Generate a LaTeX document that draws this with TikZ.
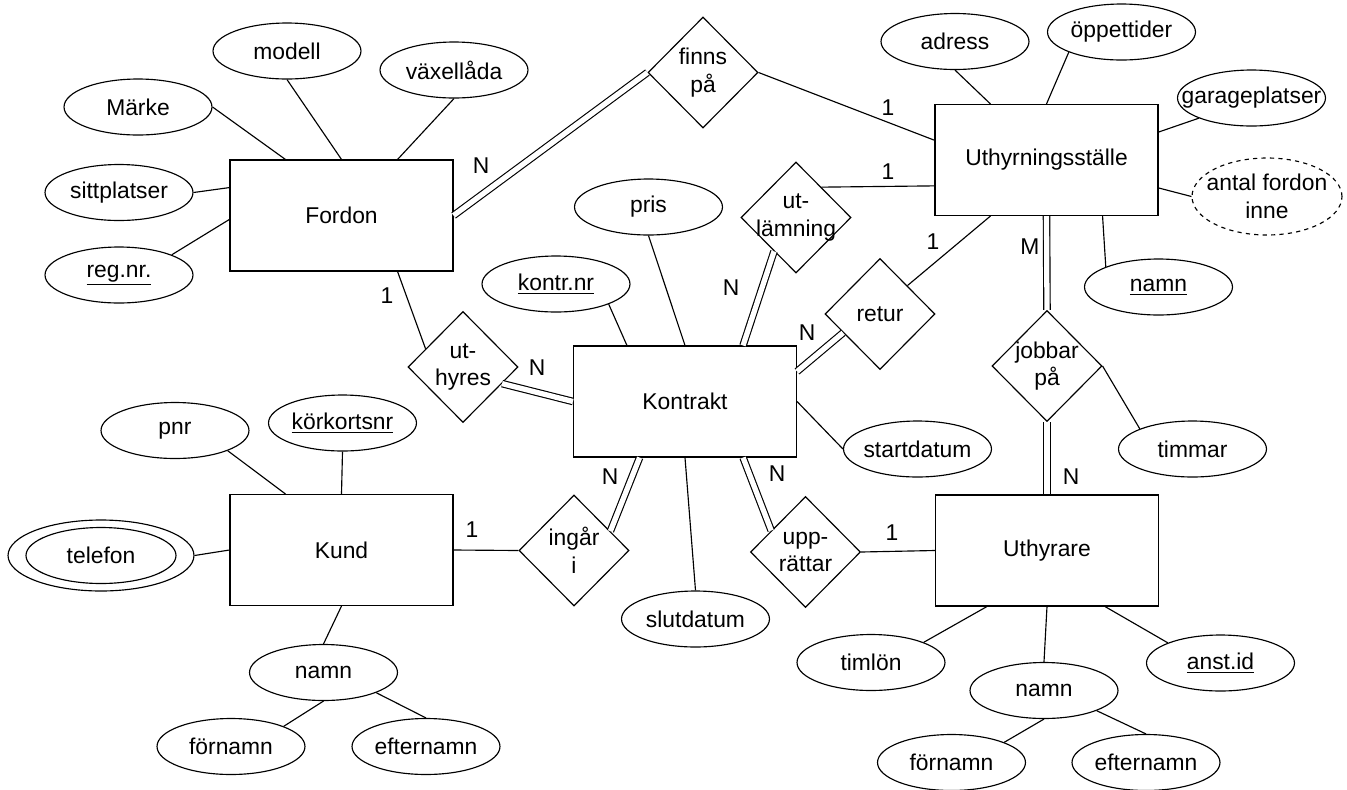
\documentclass[tikz,border=0pt]{standalone}
\usepackage{fontspec}
\setmainfont{Liberation Sans}
\usetikzlibrary{shapes.geometric}
\tikzset{entity/.style = {draw, rectangle, minimum width = 4.46cm, minimum height = 2.22cm, inner sep = 0}}
\tikzset{attr/.style = {draw, ellipse, minimum width = 2.96cm, minimum height = 1.12cm, inner sep = 0}}
\tikzset{derived/.style = {attr, dash pattern = on 2.4pt off 2.4pt, minimum width = 3cm, minimum height = 1.54cm, align = center}}
\tikzset{rel/.style = {draw, diamond, minimum width = 2.2cm, minimum height = 2.22cm, inner sep = 0, align = center}}
\tikzset{total/.style = {double, double distance = 3pt}}
\tikzset{card/.style = {inner sep = 0}}
\newcommand{\zw}[1]{\makebox[0pt]{#1}}

\begin{document}
\begin{tikzpicture}[x=0.02cm, y=-0.02cm, line width=0.65pt, font=\fontsize{13}{15.8}\selectfont]
  \useasboundingbox (0, 0) rectangle (1347, 789);

  % entities
  \node [entity] (fordon) at (341.5, 215.5) {Fordon};
  \node [entity] (stalle) at (1046.5, 160) {Uthyrningsställe};
  \node [entity] (kontrakt) at (685, 401.5) {Kontrakt};
  \node [entity] (kund) at (341.5, 550) {Kund};
  \node [entity] (uthyrare) at (1047, 550.5) {Uthyrare};

  % relations
  \node [rel] (finns) at (703, 72.5) {\zw{finns}\\\zw{på}};
  \node [rel] (uthyres) at (463, 367) {\zw{ut-}\\\zw{hyres}};
  \node [rel] (utlamning) at (796, 217.5) {\zw{ut-}\\\zw{lämning}};
  \node [rel] (retur) at (880, 314) {retur};
  \node [rel] (jobbar) at (1047, 366) {\zw{jobbar}\\\zw{på}};
  \node [rel] (ingar) at (574, 550.5) {\zw{ingår}\\\zw{i}};
  \node [rel] (upprattar) at (805.5, 552) {\zw{upp-}\\\zw{rättar}};

  % attributes
  \node [attr] (marke) at (138, 107) {Märke};
  \node [attr] (modell) at (287, 51) {modell};
  \node [attr] (vaxellada) at (454, 70) {växellåda};
  \node [attr] (sittplatser) at (119, 192.5) {sittplatser};
  \node [attr] (regnr) at (119, 275) {\underline{reg.nr.}};

  \node [attr] (adress) at (955, 41.5) {adress};
  \node [attr] (oppettider) at (1121.5, 32) {öppettider};
  \node [attr] (garage) at (1251.5, 98) {\zw{garageplatser}};
  \node [derived] (antal) at (1267, 196.5) {\zw{antal fordon}\\\zw{inne}};
  \node [attr] (snamn) at (1158.5, 287) {\underline{namn}};

  \node [attr] (pris) at (648.5, 207) {pris};
  \node [attr] (kontrnr) at (556, 284) {\underline{kontr.nr}};
  \node [attr] (startdatum) at (917.5, 449) {\zw{startdatum}};
  \node [attr] (slutdatum) at (695.5, 619) {slutdatum};
  \node [attr] (timmar) at (1192.5, 449) {timmar};

  \node [attr] (pnr) at (175, 430.5) {pnr};
  \node [attr] (korkortsnr) at (342.5, 423) {\underline{körkortsnr}};
  \node [attr, minimum width = 3.72cm, minimum height = 1.42cm] (telefon) at (101, 555.5) {telefon};
  \draw (telefon.center) ellipse [x radius = 75, y radius = 28]; % multivalued
  \node [attr] (knamn) at (323.5, 672.5) {namn};
  \node [attr] (kfornamn) at (231, 746.5) {förnamn};
  \node [attr] (kefternamn) at (426, 746.5) {efternamn};

  \node [attr] (timlon) at (871, 662.5) {timlön};
  \node [attr] (unamn) at (1044, 690.5) {namn};
  \node [attr] (anstid) at (1220.5, 663) {\underline{anst.id}};
  \node [attr] (ufornamn) at (951.5, 762.5) {förnamn};
  \node [attr] (uefternamn) at (1146, 762.5) {efternamn};

  % attribute lines
  \draw (marke.east) -- (fordon.135);
  \draw (modell.south) -- (fordon.north);
  \draw (vaxellada.south) -- (fordon.45);
  \draw (sittplatser.east) -- (fordon.166);
  \draw (regnr.north east) -- (fordon.182);

  \draw (adress.south) -- (stalle.135);
  \draw (oppettider.south west) -- (stalle.north);
  \draw (garage.south west) -- (stalle.14);
  \draw (antal.west) -- (stalle.-14);
  \draw (snamn.north west) -- (stalle.-45);

  \draw (pris.south) -- (kontrakt.north);
  \draw (kontrnr.south east) -- (kontrakt.136);
  \draw (startdatum.west) -- (kontrakt.east);
  \draw (slutdatum.north) -- (kontrakt.south);
  \draw (timmar.north west) -- (jobbar.east);

  \draw (pnr.south east) -- (kund.135);
  \draw (korkortsnr.south) -- (kund.north);
  \draw (telefon.east) -- (kund.west);
  \draw (knamn.north) -- (kund.south);
  \draw (knamn.south) -- (kfornamn.north east);
  \draw (knamn.south east) -- (kefternamn.north);

  \draw (timlon.north east) -- (uthyrare.223);
  \draw (unamn.north) -- (uthyrare.south);
  \draw (anstid.north west) -- (uthyrare.-44);
  \draw (unamn.south) -- (ufornamn.north east);
  \draw (unamn.south east) -- (uefternamn.north);

  % relationship lines
  \draw [total] (fordon.east) -- (finns.west);
  \draw (finns.east) -- (stalle.170);
  \draw (fordon.-45) -- (uthyres.154);
  \draw [total] (uthyres.-23) -- (kontrakt.west);
  \draw (utlamning.50) -- (stalle.193);
  \draw [total] (kontrakt.44) -- (utlamning.237);
  \draw (retur.46) -- (stalle.-135);
  \draw [total] (kontrakt.15) -- (retur.207);
  \draw [total] (stalle.south) -- (jobbar.north);
  \draw [total] (jobbar.south) -- (uthyrare.north);
  \draw (kund.east) -- (ingar.west);
  \draw [total] (kontrakt.231) -- (ingar.28);
  \draw [total] (kontrakt.-44) -- (upprattar.148);
  \draw (upprattar.east) -- (uthyrare.west);

  % cardinalities
  \node [card] (cfordonfinns) at (481, 166) {N};
  \node [card] (cfinnsstalle) at (888, 108) {1};
  \node [card] (cutlstalle) at (888, 172) {1};
  \node [card] (creturstalle) at (933, 242) {1};
  \node [card] (cstallejobb) at (1030, 247) {M};
  \node [card] (cjobbuthyrare) at (1071, 477) {N};
  \node [card] (cupputhyrare) at (892, 533) {1};
  \node [card] (ckontrupp) at (777, 474) {N};
  \node [card] (ckontringar) at (610, 477) {N};
  \node [card] (ckundingar) at (472, 530) {1};
  \node [card] (cuthyreskontr) at (537, 368) {N};
  \node [card] (cfordonuthyres) at (387, 296) {1};
  \node [card] (creturkontr) at (807, 333) {N};
  \node [card] (cutlkontr) at (731, 288) {N};
\end{tikzpicture}
\end{document}
